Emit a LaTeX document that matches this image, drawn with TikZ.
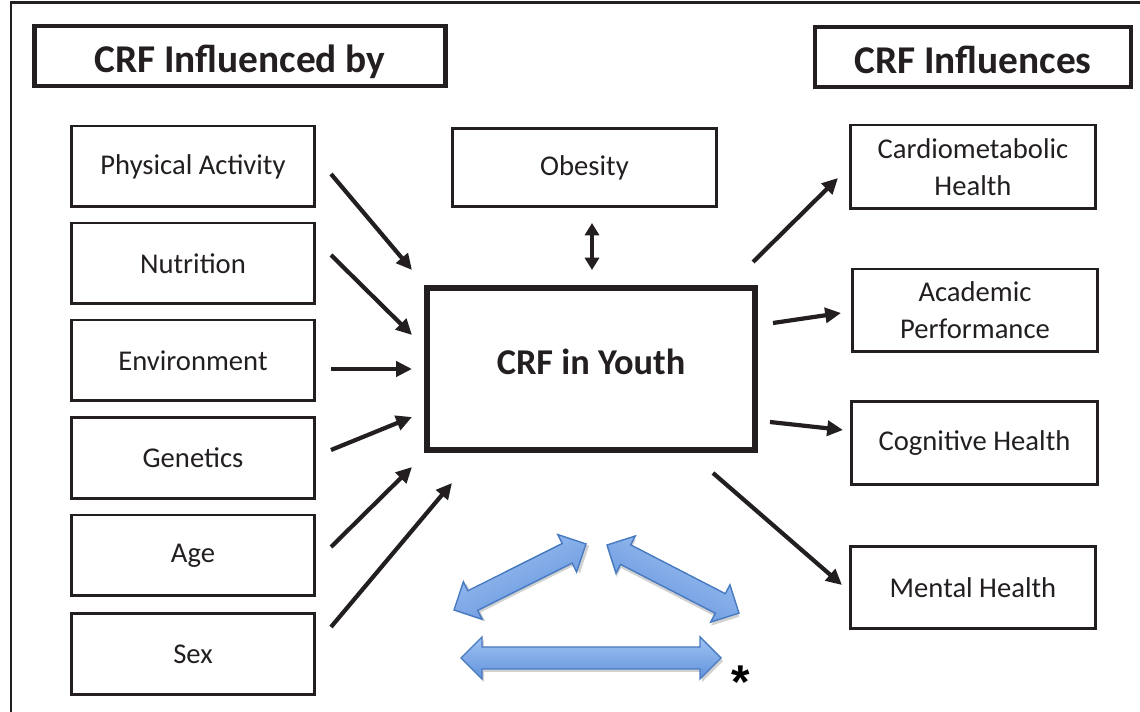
\documentclass[tikz,border=0pt]{standalone}
\usepackage{fontspec}
\setmainfont{Carlito}
\newfontfamily\symfont{Liberation Sans}
\usetikzlibrary{arrows.meta}
\definecolor{ink}{RGB}{35,31,32}
\definecolor{bluetop}{RGB}{160,195,242}
\definecolor{bluebot}{RGB}{98,146,220}
\definecolor{blueedge}{RGB}{72,122,192}

% double-headed block arrow: start x, start y, angle, length
\newcommand\blockdbl[4]{%
  \begin{scope}[shift={(#1,#2)},rotate=#3]
    \fill[black,opacity=.18] (2,3) -- (23,-18) -- (23,-8) -- (#4-19,-8) -- (#4-19,-18) -- (#4+2,3)
      -- (#4-19,24) -- (#4-19,14) -- (23,14) -- (23,24) -- cycle;
    \shade[draw=blueedge,line width=.8pt,top color=bluetop,bottom color=bluebot,shading angle=#3]
      (0,0) -- (21,-21) -- (21,-11) -- (#4-21,-11) -- (#4-21,-21) -- (#4,0)
      -- (#4-21,21) -- (#4-21,11) -- (21,11) -- (21,21) -- cycle;
  \end{scope}}

\begin{document}
\begin{tikzpicture}[x=0.02cm,y=-0.02cm,
  every node/.style={text=ink},
  factor/.style={draw=ink,line width=1.7pt,minimum width=4.88cm,minimum height=1.62cm,
    inner sep=0pt,align=center,font=\fontsize{16.3}{21}\selectfont},
  header/.style={draw=ink,inner sep=0pt,minimum height=1.2cm,text height=23pt,text depth=4.4pt,
    font=\fontsize{22.4}{26}\selectfont\bfseries},
  core/.style={draw=ink,line width=3.6pt,minimum width=6.56cm,minimum height=3.24cm,
    text depth=8pt,font=\fontsize{20.7}{24}\selectfont\bfseries},
  link/.style={draw=ink,line width=2.4pt,-{Triangle[length=9pt,width=8.5pt]}},
  ]
\useasboundingbox (0,0) rectangle (1140,712);

% outer frame
\draw[ink,line width=1.4pt] (11,720) |- (1150,2.5);

% headers
\node[header,line width=2.8pt,minimum width=8.22cm] (hin) at (240,56) {CRF Influenced by};
\node[header,line width=2pt,minimum width=6.32cm] (hout) at (973,57) {CRF Influences};

% factors influencing CRF
\node[factor] (pa)  at (193,166.5) {Physical Activity};
\node[factor] (nut) at (193,263.5) {Nutrition};
\node[factor] (env) at (193,360.5) {Environment};
\node[factor] (gen) at (193,458)   {Genetics};
\node[factor] (age) at (193,555.5) {Age};
\node[factor] (sex) at (193,654)   {Sex};

% obesity and the central node
\node[factor,minimum width=5.3cm,minimum height=1.56cm] (obe) at (584.5,167.5) {Obesity};
\node[core] (crf) at (591,369) {CRF in Youth};

% outcomes influenced by CRF
\node[factor,minimum width=4.92cm,minimum height=1.68cm] (car) at (973,167) {Cardiometabolic\\Health};
\node[factor,minimum width=4.92cm,minimum height=1.66cm] (aca) at (975,310.5) {Academic\\Performance};
\node[factor,minimum width=4.92cm,minimum height=1.66cm] (cog) at (974.5,443) {Cognitive Health};
\node[factor,minimum width=4.92cm,minimum height=1.64cm] (men) at (973,587.5) {Mental Health};

% arrow ends
\coordinate (pa-a) at (331,174);  \coordinate (pa-b) at (412,270);
\coordinate (nut-a) at (331,255); \coordinate (nut-b) at (412,335);
\coordinate (env-a) at (331,369); \coordinate (env-b) at (412,369);
\coordinate (gen-a) at (331,450); \coordinate (gen-b) at (412,417);
\coordinate (age-a) at (331,547); \coordinate (age-b) at (412,467);
\coordinate (sex-a) at (331,627); \coordinate (sex-b) at (452,483);
\coordinate (obe-a) at (592,223); \coordinate (obe-b) at (592,270);
\coordinate (car-a) at (753,262); \coordinate (car-b) at (838,178);
\coordinate (aca-a) at (773,323); \coordinate (aca-b) at (841,313);
\coordinate (cog-a) at (770,422); \coordinate (cog-b) at (843,430);
\coordinate (men-a) at (713,473); \coordinate (men-b) at (842,585);

\draw[link] (pa-a) -- (pa-b);
\draw[link] (nut-a) -- (nut-b);
\draw[link] (env-a) -- (env-b);
\draw[link] (gen-a) -- (gen-b);
\draw[link] (age-a) -- (age-b);
\draw[link] (sex-a) -- (sex-b);
\draw[draw=ink,line width=2pt,{Triangle[length=7pt,width=8pt]}-{Triangle[length=7pt,width=8pt]}] (obe-a) -- (obe-b);
\draw[link] (car-a) -- (car-b);
\draw[link] (aca-a) -- (aca-b);
\draw[link] (cog-a) -- (cog-b);
\draw[link] (men-a) -- (men-b);

% blue block arrows below the central node
\blockdbl{454}{610}{26.6}{147.6}
\blockdbl{607}{545}{-27.3}{148.5}
\blockdbl{461}{658}{0}{260}
\node[font=\symfont\fontsize{27}{27}\selectfont\bfseries,text=black,inner sep=0pt] (star) at (741,682) {*};
\end{tikzpicture}
\end{document}
